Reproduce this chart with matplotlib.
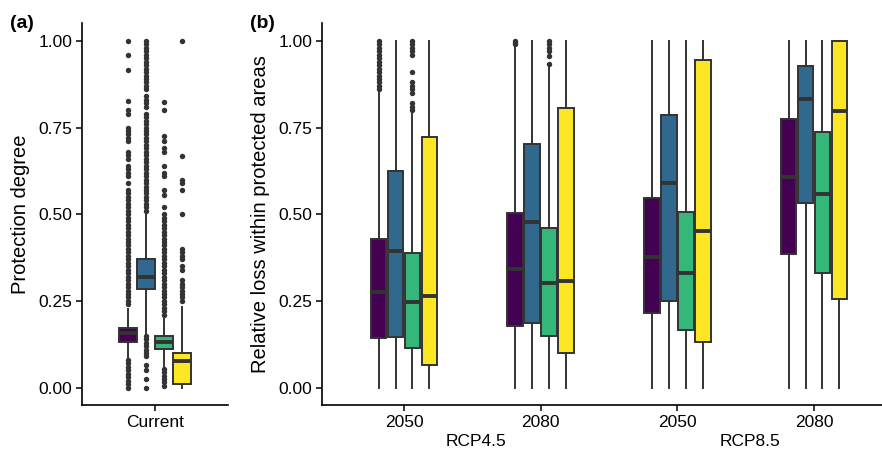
import matplotlib
matplotlib.use("Agg")
import matplotlib.pyplot as plt
import matplotlib.transforms as mtransforms

plt.rcParams['font.family'] = ['Liberation Sans', 'DejaVu Sans']

# colours (viridis, 4 levels)
fills = ['#440154', '#31688E', '#35B779', '#FDE725']
edge = '#333333'

# ---- panel (a): current protection degree ----
a_q1 = [0.131, 0.284, 0.112, 0.010]
a_med = [0.158, 0.318, 0.133, 0.077]
a_q3 = [0.172, 0.371, 0.150, 0.099]
a_lo = [0.070, 0.155, 0.056, 0.000]
a_hi = [0.228, 0.500, 0.207, 0.232]

a_out_purple = [1.0, 0.96, 0.917, 0.826, 0.80, 0.79, 0.75, 0.74, 0.73, 0.72, 0.71,
                0.68, 0.67, 0.66, 0.64, 0.63, 0.62, 0.61, 0.59, 0.57, 0.56, 0.55,
                0.54, 0.53, 0.52, 0.51, 0.50, 0.49, 0.48, 0.47, 0.46, 0.45, 0.44,
                0.43, 0.42, 0.41, 0.40, 0.39, 0.38, 0.37, 0.36, 0.35, 0.34, 0.33,
                0.32, 0.31, 0.30, 0.29, 0.28, 0.27, 0.26, 0.25, 0.24,
                0.08, 0.07, 0.06, 0.05, 0.04, 0.03, 0.02, 0.01, 0.0]
a_out_blue = [1.0, 0.99, 0.98, 0.97, 0.96, 0.95, 0.94, 0.93, 0.92, 0.91, 0.90,
              0.89, 0.88, 0.87, 0.86, 0.84, 0.83, 0.82, 0.81,
              0.79, 0.78, 0.77, 0.76, 0.75, 0.74, 0.73, 0.72, 0.71, 0.70, 0.69,
              0.68, 0.67, 0.66, 0.65, 0.64, 0.63, 0.62, 0.61, 0.60, 0.59, 0.58,
              0.57, 0.56, 0.55, 0.54, 0.53, 0.52, 0.51,
              0.15, 0.14, 0.13, 0.12, 0.11, 0.10, 0.09, 0.065, 0.05, 0.025, 0.0]
a_out_green = [0.825, 0.80, 0.725, 0.71, 0.69, 0.68, 0.64, 0.62, 0.61, 0.57, 0.555,
               0.52, 0.50, 0.49, 0.48, 0.47, 0.46, 0.45, 0.44, 0.43, 0.42, 0.41,
               0.40, 0.39, 0.38, 0.37, 0.36, 0.35, 0.34, 0.33, 0.32, 0.31, 0.30,
               0.29, 0.28, 0.27, 0.26, 0.25, 0.24, 0.23, 0.22, 0.21,
               0.055, 0.045, 0.035, 0.025, 0.015, 0.005]
a_out_yellow = [1.0, 0.667, 0.60, 0.59, 0.57, 0.50, 0.40, 0.39, 0.38, 0.37, 0.35,
                0.34, 0.31, 0.30, 0.29, 0.28, 0.27, 0.26, 0.25]
a_out = [a_out_purple, a_out_blue, a_out_green, a_out_yellow]

# ---- panel (b): relative loss, groups = RCP4.5 2050/2080, RCP8.5 2050/2080 ----
b_ticklabels = ['2050', '2080', '2050', '2080']
b_scenarios = ['RCP4.5', 'RCP8.5']

b_q1 = [[0.142, 0.147, 0.115, 0.065],
        [0.177, 0.185, 0.148, 0.100],
        [0.215, 0.251, 0.166, 0.133],
        [0.386, 0.533, 0.332, 0.256]]
b_med = [[0.276, 0.395, 0.246, 0.263],
         [0.342, 0.477, 0.302, 0.308],
         [0.378, 0.589, 0.332, 0.453],
         [0.608, 0.832, 0.557, 0.797]]
b_q3 = [[0.428, 0.624, 0.388, 0.723],
        [0.503, 0.702, 0.460, 0.807],
        [0.548, 0.785, 0.506, 0.945],
        [0.776, 0.927, 0.737, 1.000]]
b_lo = [[0.0, 0.0, 0.0, 0.0],
        [0.0, 0.0, 0.0, 0.0],
        [0.0, 0.0, 0.0, 0.0],
        [0.0, 0.0, 0.0, 0.0]]
b_hi = [[0.855, 1.0, 0.795, 1.0],
        [0.985, 1.0, 0.925, 1.0],
        [1.0, 1.0, 1.0, 1.0],
        [1.0, 1.0, 1.0, 1.0]]
b_out = [[[1.0, 0.99, 0.98, 0.97, 0.96, 0.95, 0.94, 0.93, 0.92, 0.91, 0.90,
           0.89, 0.88, 0.87, 0.86],
          [],
          [1.0, 0.99, 0.98, 0.97, 0.96, 0.91, 0.88, 0.87, 0.86, 0.85, 0.82,
           0.81, 0.80],
          []],
         [[1.0, 0.995, 0.99], [], [1.0, 0.99, 0.98, 0.97, 0.955, 0.934], []],
         [[], [], [], []],
         [[], [], [], []]]


def stats(q1, med, q3, lo, hi, fl):
    return dict(q1=q1, med=med, q3=q3, whislo=lo, whishi=hi, fliers=fl)


def draw(ax, st, pos, width, col):
    ax.bxp([st], positions=[pos], widths=width, patch_artist=True,
           showcaps=False, manage_ticks=False,
           boxprops=dict(facecolor=col, edgecolor=edge, linewidth=1.4),
           whiskerprops=dict(color=edge, linewidth=1.4),
           medianprops=dict(color=edge, linewidth=2.8, solid_capstyle='butt'),
           flierprops=dict(marker='o', markerfacecolor=edge,
                           markeredgecolor='none', markersize=3.9))


def style(ax):
    for s in ['top', 'right']:
        ax.spines[s].set_visible(False)
    for s in ['left', 'bottom']:
        ax.spines[s].set_linewidth(1.2)
    ax.set_ylim(-0.05, 1.05)
    ax.set_yticks([0, 0.25, 0.5, 0.75, 1.0])
    ax.set_yticklabels(['0.00', '0.25', '0.50', '0.75', '1.00'])
    ax.tick_params(labelsize=12.5, width=1.1, length=4, colors='black', pad=3)


fig = plt.figure(figsize=(8.82, 4.51), dpi=100)

axa = fig.add_axes([82 / 882, 1 - 405 / 451, 146 / 882, 381.5 / 451])
for i in range(4):
    draw(axa, stats(a_q1[i], a_med[i], a_q3[i], a_lo[i], a_hi[i], a_out[i]),
         1 + (i - 1.5) * 0.148, 0.14, fills[i])
axa.set_xlim(0.4, 1.6)
axa.set_xticks([1])
axa.set_xticklabels(['Current'])
style(axa)
axa.set_ylabel('Protection degree', fontsize=14.5, labelpad=6)
fig.text(10 / 882, 1 - 24 / 451, '(a)', fontsize=14, fontweight='bold',
         va='center', ha='left')

axb = fig.add_axes([322 / 882, 1 - 405 / 451, 574 / 882, 381.5 / 451])
for g in range(4):
    for i in range(4):
        draw(axb, stats(b_q1[g][i], b_med[g][i], b_q3[g][i], b_lo[g][i],
                        b_hi[g][i], b_out[g][i]),
             g + 1 + (i - 1.5) * 0.124, 0.115, fills[i])
axb.set_xlim(0.4, 4.6)
axb.set_xticks([1, 2, 3, 4])
axb.set_xticklabels(b_ticklabels)
style(axb)
axb.set_ylabel('Relative loss within protected areas', fontsize=14.5, labelpad=6)
trans = mtransforms.blended_transform_factory(axb.transData, fig.transFigure)
for k, name in enumerate(b_scenarios):
    axb.text(1.53 + 2 * k, 1 - 442 / 451, name, transform=trans, fontsize=12.5,
             ha='center', va='center')
fig.text(250 / 882, 1 - 24 / 451, '(b)', fontsize=14, fontweight='bold',
         va='center', ha='left')

fig.savefig('out.png', dpi=100)
